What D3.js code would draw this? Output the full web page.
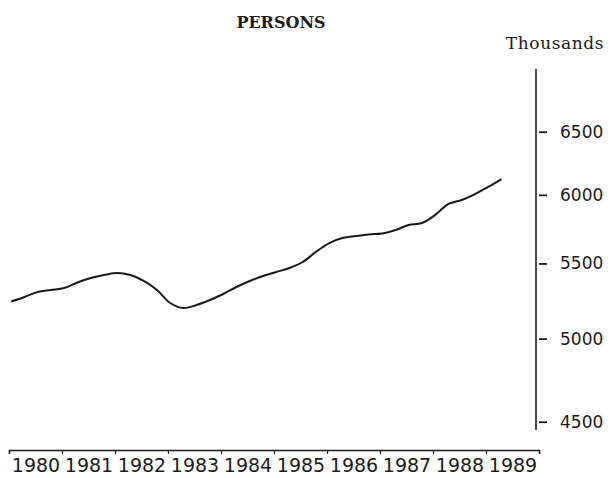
<!DOCTYPE html>
<html><head><meta charset="utf-8">
<script src="https://cdn.jsdelivr.net/npm/d3@7"></script>
<style>body{margin:0;background:#fff}</style>
</head><body><svg id="c" width="610" height="478"></svg>
<script>
const title = "PERSONS";
const unitLabel = "Thousands";
const years = [1980,1981,1982,1983,1984,1985,1986,1987,1988,1989];
const yTicks = [4500,5000,5500,6000,6500];
// quarterly values (thousands), starting Q1 1980
const values = [5241,5271,5305,5318, 5331,5369,5399,5420, 5434,5420,5379,5318,
                5231,5198,5218,5251, 5291,5338,5379,5413, 5441,5468,5510,5581,
                5644,5680,5694,5706, 5713,5738,5775,5789, 5849,5931,5961,6006,
                6060,6121];
const series = values.map((v,i)=>({t: years[0] + i/4 + 1/24, v}));

const svg = d3.select("#c");
const x = d3.scaleLinear().domain([1980, 1990]).range([9, 539]);
const y = d3.scaleLog().domain([4500, 6500]).range([421.7, 131.7]);
const ink = "#1a1a1a";

// title
svg.append("text").attr("x", 281).attr("y", 28).attr("text-anchor","middle")
  .attr("font-family","DejaVu Serif").attr("font-weight","bold").attr("font-size",16)
  .attr("fill",ink).text(title);
svg.append("text").attr("x", 555).attr("y", 49).attr("text-anchor","middle")
  .attr("font-family","DejaVu Serif").attr("font-size",17).attr("letter-spacing",0.6)
  .attr("fill",ink).text(unitLabel);

// right axis
const yAxisG = svg.append("g").attr("transform","translate(536,0)");
yAxisG.append("line").attr("x1",0).attr("x2",0)
  .attr("y1", y(7037)).attr("y2", y(4453)).attr("stroke",ink).attr("stroke-width",1.6);
const ya = yAxisG.append("g").call(d3.axisRight(y).tickValues(yTicks)
  .tickFormat(d3.format("d")).tickSize(11).tickPadding(13));
ya.select(".domain").remove();
ya.selectAll(".tick line").attr("x1",3).attr("stroke",ink).attr("stroke-width",1.8);
ya.selectAll(".tick text").attr("font-family","DejaVu Sans").attr("font-size",17).attr("fill",ink);

// bottom axis
const xAxisG = svg.append("g").attr("transform","translate(0,450)");
const xa = xAxisG.append("g").call(d3.axisBottom(x)
  .tickValues(d3.range(1980,1991)).tickFormat("").tickSize(4).tickSizeOuter(4));
xa.select(".domain").attr("stroke",ink).attr("stroke-width",1.5);
xa.selectAll(".tick line").attr("stroke",ink).attr("stroke-width",1.2);
const xl = xAxisG.append("g").call(d3.axisBottom(x)
  .tickValues(years.map(d=>d+0.5)).tickFormat(d=>String(Math.floor(d))).tickSize(0).tickPadding(9));
xl.select(".domain").remove();
xl.selectAll(".tick text").attr("font-family","DejaVu Sans").attr("font-size",19).attr("fill",ink);

// line
const line = d3.line().x(d=>x(d.t)).y(d=>y(d.v)).curve(d3.curveCatmullRom.alpha(0.5));
svg.append("path").datum(series).attr("d",line).attr("fill","none")
  .attr("stroke",ink).attr("stroke-width",2).attr("stroke-linejoin","round");
</script></body></html>
